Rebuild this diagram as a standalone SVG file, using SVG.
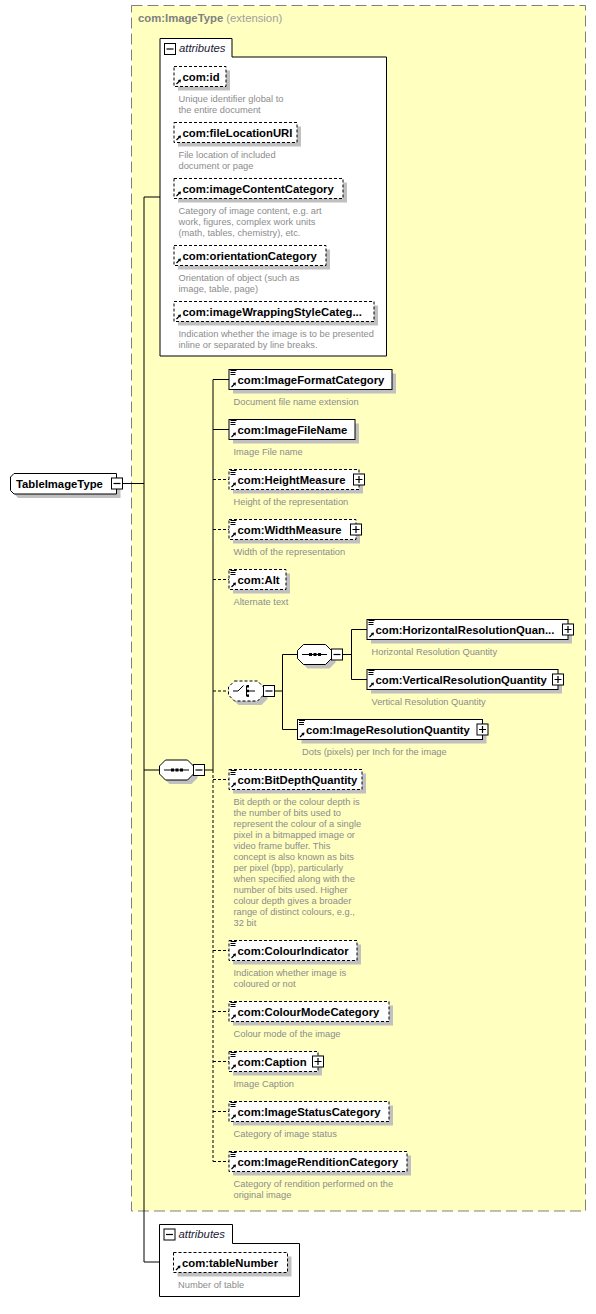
<svg xmlns="http://www.w3.org/2000/svg" xmlns:xlink="http://www.w3.org/1999/xlink" width="596" height="1314" viewBox="0 0 596 1314">
<style>
.nt{font-family:"Liberation Sans",Arial,sans-serif;font-size:11.3px;font-weight:bold;fill:#000}
.ds{font-family:"Liberation Sans",Arial,sans-serif;font-size:9.3px;fill:#8c8c8c}
.it{font-family:"Liberation Sans",Arial,sans-serif;font-size:11.3px;font-style:italic;fill:#1a1a33}
.box{fill:#fff;stroke:#000;stroke-width:1}
.opt{fill:#fff;stroke:#000;stroke-width:1;stroke-dasharray:3 2}
.sh{fill:#c0c0c0}
.ln{fill:none;stroke:#000;stroke-width:1}
.dl{fill:none;stroke:#000;stroke-width:1;stroke-dasharray:3 2}
</style>
<defs>
<g id="arr"><path d="M2.5,17.5 L5.5,14.5" stroke="#000" stroke-width="1.2" fill="none"/><polygon points="3.8,13.6 7,13 6.4,16.2" fill="#000"/></g>
<g id="lines"><rect x="1.5" y="0.5" width="6" height="1" fill="#000"/><rect x="1.5" y="2.5" width="5" height="1" fill="#000"/><rect x="1.5" y="4.5" width="5" height="1" fill="#000"/></g>
<g id="minus"><rect x="0" y="0" width="11" height="11" fill="#fff" stroke="#000" stroke-width="1"/><path d="M2,5.5 H9" stroke="#000" stroke-width="1.2"/></g>
<g id="plus"><rect x="0" y="0" width="11" height="11" fill="#fff" stroke="#000" stroke-width="1"/><path d="M2,5.5 H9 M5.5,2 V9" stroke="#000" stroke-width="1.2"/></g>
</defs>

<g id="extension">
<rect x="131.5" y="5.5" width="454" height="1205.5" fill="#ffffc0" stroke="#808080" stroke-width="1" stroke-dasharray="11 5"/>
<text x="138" y="22" font-family="Liberation Sans,Arial,sans-serif" font-size="11.3" font-weight="bold" fill="#808080">com:ImageType <tspan font-weight="normal" fill="#a0a0a0">(extension)</tspan></text>
</g>

<g id="connectors">
<path class="ln" d="M122.5,483.5 H144 M144,197 V1262 M144,197 H160 M144,1262 H173.5"/>
<path class="ln" d="M144,770 H159.5 M204.5,770 H213 M213,379.5 V770 M213,379.5 H229 M213,429.5 H229"/>
<path class="dl" d="M213,770 V1161.5 M213,479.5 H229 M213,529.5 H229 M213,579.5 H229 M213,691 H228.5 M213,779.5 H229 M213,950.5 H229 M213,1011.5 H229 M213,1061.5 H229 M213,1111.5 H229 M213,1161.5 H229"/>
<path class="ln" d="M274.5,691 H282.5 M282.5,654.5 V729.5 M282.5,654.5 H297.5 M282.5,729.5 H297.5"/>
<path class="ln" d="M342.5,654.5 H351.5 M351.5,629.5 V679.5 M351.5,629.5 H367 M351.5,679.5 H367"/>
</g>

<g id="TableImageType">
<polygon class="sh" points="18,477.5 120.5,477.5 120.5,498 18,498 14.5,494 14.5,481.5"/>
<polygon class="box" points="14,473.5 116.5,473.5 116.5,494 14,494 10.5,490.5 10.5,477"/>
<text class="nt" x="16" y="487.5">TableImageType</text>
<use xlink:href="#minus" x="111.5" y="478"/>
</g>

<g id="attributes1">
<path class="box" d="M160,38.5 H232 V57 H386.5 V356 H160 Z"/>
<use xlink:href="#minus" x="164.5" y="43.5"/>
<text class="it" x="179" y="52">attributes</text>
</g>

<g id="attr-id">
<rect class="sh" x="178" y="70.5" width="52" height="20"/>
<rect class="opt" x="174" y="66.5" width="52" height="20"/>
<use xlink:href="#arr" x="174" y="66.5"/>
<text class="nt" x="182.5" y="80.5">com:id</text>
<text class="ds" x="178.5" y="102">Unique identifier global to</text>
<text class="ds" x="178.5" y="113">the entire document</text>
</g>
<g id="attr-fileLocationURI">
<rect class="sh" x="178" y="126.5" width="123" height="20"/>
<rect class="opt" x="174" y="122.5" width="123" height="20"/>
<use xlink:href="#arr" x="174" y="122.5"/>
<text class="nt" x="182.5" y="136.5">com:fileLocationURI</text>
<text class="ds" x="178.5" y="158">File location of included</text>
<text class="ds" x="178.5" y="169">document or page</text>
</g>
<g id="attr-imageContentCategory">
<rect class="sh" x="178" y="182.5" width="169" height="20"/>
<rect class="opt" x="174" y="178.5" width="169" height="20"/>
<use xlink:href="#arr" x="174" y="178.5"/>
<text class="nt" x="182.5" y="192.5">com:imageContentCategory</text>
<text class="ds" x="178.5" y="214">Category of image content, e.g. art</text>
<text class="ds" x="178.5" y="225">work, figures, complex work units</text>
<text class="ds" x="178.5" y="236">(math, tables, chemistry), etc.</text>
</g>
<g id="attr-orientationCategory">
<rect class="sh" x="178" y="249.5" width="152" height="20"/>
<rect class="opt" x="174" y="245.5" width="152" height="20"/>
<use xlink:href="#arr" x="174" y="245.5"/>
<text class="nt" x="182.5" y="259.5">com:orientationCategory</text>
<text class="ds" x="178.5" y="281">Orientation of object (such as</text>
<text class="ds" x="178.5" y="292">image, table, page)</text>
</g>
<g id="attr-imageWrappingStyleCategory">
<rect class="sh" x="178" y="305.5" width="200" height="20"/>
<rect class="opt" x="174" y="301.5" width="200" height="20"/>
<use xlink:href="#arr" x="174" y="301.5"/>
<text class="nt" x="182.5" y="315.5">com:imageWrappingStyleCateg...</text>
<text class="ds" x="178.5" y="337">Indication whether the image is to be presented</text>
<text class="ds" x="178.5" y="348">inline or separated by line breaks.</text>
</g>

<g id="sequence-main">
<polygon class="sh" points="169.5,764 191.5,764 197.5,770 197.5,778 191.5,784 169.5,784 163.5,778 163.5,770"/>
<polygon class="box" points="165.5,760 187.5,760 193.5,766 193.5,774 187.5,780 165.5,780 159.5,774 159.5,766"/>
<path d="M164,770 H189" stroke="#000" stroke-width="1"/>
<rect x="171" y="768.5" width="3" height="3" fill="#000"/><rect x="175.5" y="768.5" width="3" height="3" fill="#000"/><rect x="180" y="768.5" width="3" height="3" fill="#000"/>
<use xlink:href="#minus" x="193.5" y="764.5"/>
</g>

<g id="el-ImageFormatCategory">
<rect class="sh" x="233" y="373.5" width="163" height="20"/>
<rect class="box" x="229" y="369.5" width="163" height="20"/>
<use xlink:href="#lines" x="229" y="369.5"/><use xlink:href="#arr" x="229" y="369.5"/>
<text class="nt" x="237.5" y="383.5">com:ImageFormatCategory</text>
<text class="ds" x="233.5" y="404.5">Document file name extension</text>
</g>
<g id="el-ImageFileName">
<rect class="sh" x="233" y="423.5" width="126" height="20"/>
<rect class="box" x="229" y="419.5" width="126" height="20"/>
<use xlink:href="#lines" x="229" y="419.5"/><use xlink:href="#arr" x="229" y="419.5"/>
<text class="nt" x="237.5" y="433.5">com:ImageFileName</text>
<text class="ds" x="233.5" y="454.5">Image File name</text>
</g>
<g id="el-HeightMeasure">
<rect class="sh" x="233" y="473.5" width="130" height="20"/>
<rect class="opt" x="229" y="469.5" width="130" height="20"/>
<use xlink:href="#lines" x="229" y="469.5"/><use xlink:href="#arr" x="229" y="469.5"/>
<text class="nt" x="237.5" y="483.5">com:HeightMeasure</text>
<use xlink:href="#plus" x="353.5" y="474"/>
<text class="ds" x="233.5" y="504.5">Height of the representation</text>
</g>
<g id="el-WidthMeasure">
<rect class="sh" x="233" y="523.5" width="127" height="20"/>
<rect class="opt" x="229" y="519.5" width="127" height="20"/>
<use xlink:href="#lines" x="229" y="519.5"/><use xlink:href="#arr" x="229" y="519.5"/>
<text class="nt" x="237.5" y="533.5">com:WidthMeasure</text>
<use xlink:href="#plus" x="350.5" y="524"/>
<text class="ds" x="233.5" y="554.5">Width of the representation</text>
</g>
<g id="el-Alt">
<rect class="sh" x="233" y="573.5" width="57" height="20"/>
<rect class="opt" x="229" y="569.5" width="57" height="20"/>
<use xlink:href="#lines" x="229" y="569.5"/><use xlink:href="#arr" x="229" y="569.5"/>
<text class="nt" x="237.5" y="583.5">com:Alt</text>
<text class="ds" x="233.5" y="604.5">Alternate text</text>
</g>

<g id="choice">
<polygon class="sh" points="238.5,685 261.5,685 267.5,691 267.5,699 261.5,705 238.5,705 232.5,699 232.5,691"/>
<polygon class="opt" points="234.5,681 257.5,681 263.5,687 263.5,695 257.5,701 234.5,701 228.5,695 228.5,687"/>
<path d="M233,691 H238 L243.5,685.5 M246.5,686 V696 M249,691 H255" stroke="#000" stroke-width="1" fill="none"/>
<rect x="246.5" y="685" width="2.5" height="2.5" fill="#000"/><rect x="246.5" y="689.7" width="2.5" height="2.5" fill="#000"/><rect x="246.5" y="694.4" width="2.5" height="2.5" fill="#000"/>
<use xlink:href="#minus" x="263.5" y="685.5"/>
</g>

<g id="sequence-resolution">
<polygon class="sh" points="307.5,648.5 329.5,648.5 335.5,654.5 335.5,662.5 329.5,668.5 307.5,668.5 301.5,662.5 301.5,654.5"/>
<polygon class="box" points="303.5,644.5 325.5,644.5 331.5,650.5 331.5,658.5 325.5,664.5 303.5,664.5 297.5,658.5 297.5,650.5"/>
<path d="M302,654.5 H327" stroke="#000" stroke-width="1"/>
<rect x="309" y="653" width="3" height="3" fill="#000"/><rect x="313.5" y="653" width="3" height="3" fill="#000"/><rect x="318" y="653" width="3" height="3" fill="#000"/>
<use xlink:href="#minus" x="331.5" y="649"/>
</g>

<g id="el-HorizontalResolutionQuantity">
<rect class="sh" x="371" y="623.5" width="201" height="20"/>
<rect class="box" x="367" y="619.5" width="201" height="20"/>
<use xlink:href="#lines" x="367" y="619.5"/><use xlink:href="#arr" x="367" y="619.5"/>
<text class="nt" x="375.5" y="633.5">com:HorizontalResolutionQuan...</text>
<use xlink:href="#plus" x="562.5" y="624"/>
<text class="ds" x="371.5" y="654.5">Horizontal Resolution Quantity</text>
</g>
<g id="el-VerticalResolutionQuantity">
<rect class="sh" x="371" y="673.5" width="191" height="20"/>
<rect class="box" x="367" y="669.5" width="191" height="20"/>
<use xlink:href="#lines" x="367" y="669.5"/><use xlink:href="#arr" x="367" y="669.5"/>
<text class="nt" x="375.5" y="683.5">com:VerticalResolutionQuantity</text>
<use xlink:href="#plus" x="552.5" y="674"/>
<text class="ds" x="371.5" y="704.5">Vertical Resolution Quantity</text>
</g>
<g id="el-ImageResolutionQuantity">
<rect class="sh" x="301.5" y="723.5" width="185" height="20"/>
<rect class="box" x="297.5" y="719.5" width="185" height="20"/>
<use xlink:href="#lines" x="297.5" y="719.5"/><use xlink:href="#arr" x="297.5" y="719.5"/>
<text class="nt" x="306" y="733.5">com:ImageResolutionQuantity</text>
<use xlink:href="#plus" x="477" y="724"/>
<text class="ds" x="302" y="754.5">Dots (pixels) per Inch for the image</text>
</g>

<g id="el-BitDepthQuantity">
<rect class="sh" x="233" y="773.5" width="133" height="20"/>
<rect class="opt" x="229" y="769.5" width="133" height="20"/>
<use xlink:href="#lines" x="229" y="769.5"/><use xlink:href="#arr" x="229" y="769.5"/>
<text class="nt" x="237.5" y="783.5">com:BitDepthQuantity</text>
<text class="ds" x="233.5" y="805"><tspan x="233.5" dy="0">Bit depth or the colour depth is</tspan><tspan x="233.5" dy="11">the number of bits used to</tspan><tspan x="233.5" dy="11">represent the colour of a single</tspan><tspan x="233.5" dy="11">pixel in a bitmapped image or</tspan><tspan x="233.5" dy="11">video frame buffer. This</tspan><tspan x="233.5" dy="11">concept is also known as bits</tspan><tspan x="233.5" dy="11">per pixel (bpp), particularly</tspan><tspan x="233.5" dy="11">when specified along with the</tspan><tspan x="233.5" dy="11">number of bits used. Higher</tspan><tspan x="233.5" dy="11">colour depth gives a broader</tspan><tspan x="233.5" dy="11">range of distinct colours, e.g.,</tspan><tspan x="233.5" dy="11">32 bit</tspan></text>
</g>
<g id="el-ColourIndicator">
<rect class="sh" x="233" y="944.5" width="128" height="20"/>
<rect class="opt" x="229" y="940.5" width="128" height="20"/>
<use xlink:href="#lines" x="229" y="940.5"/><use xlink:href="#arr" x="229" y="940.5"/>
<text class="nt" x="237.5" y="954.5">com:ColourIndicator</text>
<text class="ds" x="233.5" y="975.5">Indication whether image is</text>
<text class="ds" x="233.5" y="986.5">coloured or not</text>
</g>
<g id="el-ColourModeCategory">
<rect class="sh" x="233" y="1005.5" width="160" height="20"/>
<rect class="opt" x="229" y="1001.5" width="160" height="20"/>
<use xlink:href="#lines" x="229" y="1001.5"/><use xlink:href="#arr" x="229" y="1001.5"/>
<text class="nt" x="237.5" y="1015.5">com:ColourModeCategory</text>
<text class="ds" x="233.5" y="1036.5">Colour mode of the image</text>
</g>
<g id="el-Caption">
<rect class="sh" x="233" y="1055.5" width="89" height="20"/>
<rect class="opt" x="229" y="1051.5" width="89" height="20"/>
<use xlink:href="#lines" x="229" y="1051.5"/><use xlink:href="#arr" x="229" y="1051.5"/>
<text class="nt" x="237.5" y="1065.5">com:Caption</text>
<use xlink:href="#plus" x="312.5" y="1056"/>
<text class="ds" x="233.5" y="1086.5">Image Caption</text>
</g>
<g id="el-ImageStatusCategory">
<rect class="sh" x="233" y="1105.5" width="160" height="20"/>
<rect class="opt" x="229" y="1101.5" width="160" height="20"/>
<use xlink:href="#lines" x="229" y="1101.5"/><use xlink:href="#arr" x="229" y="1101.5"/>
<text class="nt" x="237.5" y="1115.5">com:ImageStatusCategory</text>
<text class="ds" x="233.5" y="1136.5">Category of image status</text>
</g>
<g id="el-ImageRenditionCategory">
<rect class="sh" x="233" y="1155.5" width="178" height="20"/>
<rect class="opt" x="229" y="1151.5" width="178" height="20"/>
<use xlink:href="#lines" x="229" y="1151.5"/><use xlink:href="#arr" x="229" y="1151.5"/>
<text class="nt" x="237.5" y="1165.5">com:ImageRenditionCategory</text>
<text class="ds" x="233.5" y="1186.5">Category of rendition performed on the</text>
<text class="ds" x="233.5" y="1197.5">original image</text>
</g>

<g id="attributes2">
<path class="box" d="M159.5,1224.5 H232.5 V1243.5 H299.5 V1296.5 H159.5 Z"/>
<use xlink:href="#minus" x="164" y="1229"/>
<text class="it" x="178.5" y="1238">attributes</text>
</g>
<g id="attr-tableNumber">
<rect class="sh" x="177.5" y="1256.5" width="114" height="20"/>
<rect class="opt" x="173.5" y="1252.5" width="114" height="20"/>
<use xlink:href="#arr" x="173.5" y="1252.5"/>
<text class="nt" x="182" y="1266.5">com:tableNumber</text>
<text class="ds" x="178" y="1287.5">Number of table</text>
</g>
</svg>
